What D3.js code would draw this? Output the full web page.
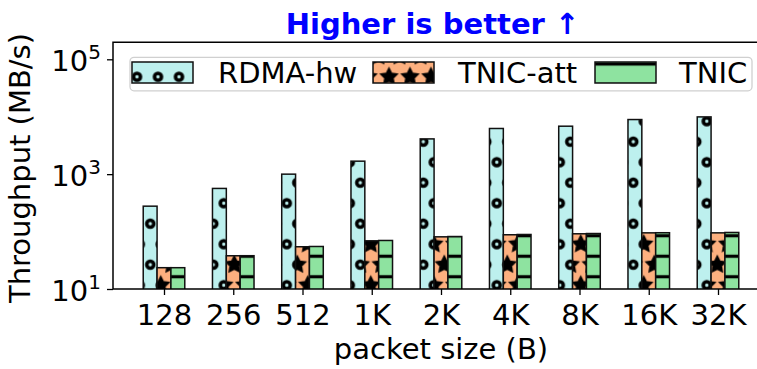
<!DOCTYPE html>
<html>
<head>
<meta charset="utf-8">
<script src="https://cdn.jsdelivr.net/npm/d3@7"></script>
<style>
  html, body { margin: 0; padding: 0; background: #fff; }
  svg { display: block; font-family: "DejaVu Sans", sans-serif; }
</style>
</head>
<body>
<svg id="chart" width="757" height="369"></svg>
<script>
// ---------------- data ----------------
const categories = ["128", "256", "512", "1K", "2K", "4K", "8K", "16K", "32K"];
const rdmaHw  = [277, 564, 1000, 1683, 4110, 6240, 6840, 8930, 9930];
const tnicAtt = [23.5, 37.9, 54.4, 69, 81, 88, 91.5, 95, 95];
const tnic    = [23.5, 38, 55, 70, 82, 89, 92.5, 95.5, 96.5];
const seriesNames = ["RDMA-hw", "TNIC-att", "TNIC"];
const yTickValues = [10, 1000, 100000];
const yTickExponents = ["1", "3", "5"];
const titleText = "Higher is better \u2191";
const xLabelText = "packet size (B)";
const yLabelText = "Throughput (MB/s)";

// ---------------- layout ----------------
const plotLeft = 113, plotTop = 42.3, plotBottom = 289, plotRight = 775;
const svg = d3.select("#chart");
const colors = ["#bdf0ee", "#fdb07f", "#8ee3a0"];
const barW = 0.2;

const x = d3.scaleLinear().domain([0, 8]).range([164, 718]);
const y = d3.scaleLog().domain([10, 100000]).range([plotBottom, 59.3]);

// ---------------- patterns ----------------
const defs = svg.append("defs");
function starPath(cx, cy, R, r) {
  const pts = [];
  for (let i = 0; i < 10; i++) {
    const a = -Math.PI / 2 + i * Math.PI / 5;
    const rad = i % 2 === 0 ? R : r;
    pts.push([cx + rad * Math.cos(a), cy + rad * Math.sin(a)]);
  }
  return "M" + pts.map(p => p.join(",")).join("L") + "Z";
}
const PX = 21, PY = 20.5;
const lattice = [[0, 0], [PX, 0], [0, 2 * PY], [PX, 2 * PY], [PX / 2, PY]];
function circlePattern(id, fill, ox, oy) {
  const p = defs.append("pattern").attr("id", id).attr("patternUnits", "userSpaceOnUse")
    .attr("x", ox).attr("y", oy).attr("width", PX).attr("height", 2 * PY);
  p.append("rect").attr("width", PX).attr("height", 2 * PY).attr("fill", fill);
  lattice.forEach(([cx, cy]) =>
    p.append("circle").attr("cx", cx).attr("cy", cy).attr("r", 3.5)
      .attr("fill", "none").attr("stroke", "#000").attr("stroke-width", 3.6));
}
function starPattern(id, fill, ox, oy) {
  const p = defs.append("pattern").attr("id", id).attr("patternUnits", "userSpaceOnUse")
    .attr("x", ox).attr("y", oy).attr("width", PX).attr("height", 2 * PY);
  p.append("rect").attr("width", PX).attr("height", 2 * PY).attr("fill", fill);
  lattice.forEach(([cx, cy]) =>
    p.append("path").attr("d", starPath(cx, cy, 7.8, 3.9))
      .attr("fill", "#000").attr("stroke", "#000").attr("stroke-width", 2.2)
      .attr("stroke-linejoin", "miter"));
}
function linePattern(id, fill, oy) {
  const p = defs.append("pattern").attr("id", id).attr("patternUnits", "userSpaceOnUse")
    .attr("x", 0).attr("y", oy).attr("width", 40).attr("height", PY);
  p.append("rect").attr("width", 40).attr("height", PY).attr("fill", fill);
  p.append("rect").attr("x", 0).attr("y", PY / 2 - 1.6).attr("width", 40).attr("height", 3.2).attr("fill", "#000");
}
circlePattern("pat0", colors[0], 3.3, 18.7);
starPattern("pat1", colors[1], 3.3, 18.7);
linePattern("pat2", colors[2], 0);
circlePattern("leg0", colors[0], 0.5, 15.3);
starPattern("leg1", colors[1], 0.5, 15.3);
linePattern("leg2", colors[2], 64 - PY / 2);

// ---------------- bars ----------------
const clip = defs.append("clipPath").attr("id", "plotclip");
clip.append("rect").attr("x", plotLeft).attr("y", plotTop).attr("width", plotRight - plotLeft).attr("height", plotBottom - plotTop);

const allSeries = [rdmaHw, tnicAtt, tnic];
const gBars = svg.append("g").attr("clip-path", "url(#plotclip)");
allSeries.forEach((vals, s) => {
  const off = (s - 1) * barW;
  gBars.selectAll(null).data(vals).enter().append("rect")
    .attr("x", (d, i) => x(i + off - barW / 2))
    .attr("width", (d, i) => x(i + off + barW / 2) - x(i + off - barW / 2))
    .attr("y", d => y(d))
    .attr("height", d => plotBottom - y(d) + 2)
    .attr("fill", `url(#pat${s})`)
    .attr("stroke", "#111").attr("stroke-width", 1.5);
});

// ---------------- axes ----------------
const xAxis = d3.axisBottom(x).tickValues(d3.range(categories.length))
  .tickFormat(i => categories[i]).tickSize(6).tickPadding(0);
const gx = svg.append("g").attr("transform", `translate(0,${plotBottom})`).call(xAxis);
gx.select(".domain").remove();
gx.selectAll(".tick line").attr("stroke", "#000").attr("stroke-width", 1.3);
gx.selectAll(".tick text").attr("dy", null).attr("y", 36)
  .attr("font-size", 29).attr("font-family", "DejaVu Sans").attr("fill", "#000");

const yAxis = d3.axisLeft(y).tickValues(yTickValues).tickFormat(() => "").tickSize(6);
const gy = svg.append("g").attr("transform", `translate(${plotLeft},0)`).call(yAxis);
gy.select(".domain").remove();
gy.selectAll(".tick line").attr("stroke", "#000").attr("stroke-width", 1.3);
gy.selectAll(".tick").each(function (d, i) {
  const t = d3.select(this).append("text").attr("x", -12).attr("y", 11)
    .attr("text-anchor", "end").attr("fill", "#000").attr("font-size", 29)
    .attr("font-family", "DejaVu Sans");
  t.append("tspan").text("10");
  t.append("tspan").attr("font-size", 20).attr("dy", -12).text(yTickExponents[i]);
});

// frame (left, top, bottom spines; right spine lies outside the picture)
svg.append("path")
  .attr("d", `M${plotRight},${plotTop}H${plotLeft}V${plotBottom}H${plotRight}`)
  .attr("fill", "none").attr("stroke", "#000").attr("stroke-width", 1.5);

// ---------------- labels ----------------
svg.append("text").attr("x", 432.5).attr("y", 34).attr("text-anchor", "middle")
  .attr("font-size", 29).attr("font-weight", "bold").attr("fill", "#0000ff").text(titleText);
svg.append("text").attr("x", 441).attr("y", 359).attr("text-anchor", "middle")
  .attr("font-size", 29).attr("fill", "#000").text(xLabelText);
svg.append("text").attr("transform", "translate(30,168) rotate(-90)").attr("text-anchor", "middle")
  .attr("font-size", 29).attr("fill", "#000").text(yLabelText);

// ---------------- legend ----------------
const leg = svg.append("g");
leg.append("rect").attr("x", 130).attr("y", 57.3).attr("width", 622).attr("height", 33.5)
  .attr("rx", 4).attr("fill", "#fff").attr("fill-opacity", 0.8)
  .attr("stroke", "#d0d0d0").attr("stroke-width", 1.3);
const legX = [132, 373, 595];
const legTextX = [218, 458, 679];
seriesNames.forEach((name, s) => {
  leg.append("rect").attr("x", legX[s]).attr("y", 62).attr("width", 61).attr("height", 21)
    .attr("fill", `url(#leg${s})`).attr("stroke", "#111").attr("stroke-width", 1.5);
  leg.append("text").attr("x", legTextX[s]).attr("y", 82.7).attr("font-size", 29)
    .attr("fill", "#000").text(name);
});
</script>
</body>
</html>
